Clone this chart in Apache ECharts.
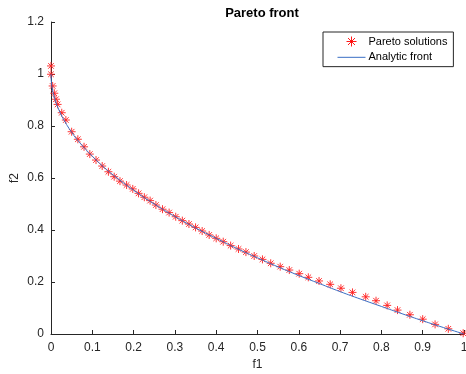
<!DOCTYPE html>
<html>
<head>
<meta charset="utf-8">
<script src="https://cdn.jsdelivr.net/npm/echarts@6/dist/echarts.min.js"></script>
<style>html,body{margin:0;padding:0;background:#fff}#c{width:466px;height:374px}</style>
</head>
<body>
<div id="c"></div>
<script>
var paretoF1 = [0, 0, 0.004, 0.008, 0.012, 0.016, 0.026, 0.036, 0.050, 0.065, 0.080, 0.094, 0.109, 0.124, 0.139, 0.153, 0.167, 0.183, 0.198, 0.212, 0.226, 0.240, 0.254, 0.270, 0.286, 0.302, 0.318, 0.334, 0.350, 0.366, 0.383, 0.400, 0.417, 0.435, 0.454, 0.472, 0.492, 0.512, 0.532, 0.555, 0.577, 0.601, 0.623, 0.649, 0.676, 0.702, 0.730, 0.762, 0.787, 0.814, 0.839, 0.869, 0.900, 0.930, 0.962, 0.998];
var paretoF2 = [1.031, 0.999, 0.954, 0.926, 0.903, 0.883, 0.851, 0.823, 0.778, 0.749, 0.720, 0.692, 0.669, 0.646, 0.624, 0.605, 0.588, 0.573, 0.558, 0.541, 0.526, 0.513, 0.496, 0.480, 0.467, 0.451, 0.436, 0.423, 0.410, 0.396, 0.381, 0.368, 0.355, 0.340, 0.327, 0.315, 0.300, 0.287, 0.272, 0.259, 0.246, 0.232, 0.218, 0.204, 0.191, 0.176, 0.160, 0.143, 0.128, 0.110, 0.092, 0.074, 0.057, 0.037, 0.020, 0.003];
var frontF1 = [0, 0.001, 0.003, 0.006, 0.01, 0.02, 0.03, 0.05, 0.07, 0.1, 0.13, 0.16, 0.2, 0.25, 0.3, 0.35, 0.4, 0.45, 0.5, 0.55, 0.6, 0.65, 0.7, 0.75, 0.8, 0.85, 0.9, 0.95, 1.0];
var frontF2 = [1.0, 0.968, 0.945, 0.923, 0.90, 0.859, 0.827, 0.776, 0.735, 0.684, 0.639, 0.600, 0.553, 0.500, 0.452, 0.408, 0.368, 0.329, 0.293, 0.258, 0.225, 0.194, 0.163, 0.134, 0.106, 0.078, 0.051, 0.025, 0.0];
var xTicks = ['0', '0.1', '0.2', '0.3', '0.4', '0.5', '0.6', '0.7', '0.8', '0.9', '1'];
var yTicks = ['0', '0.2', '0.4', '0.6', '0.8', '1', '1.2'];

var starPath = 'path://M0,-10L0,10M-10,0L10,0M-7,-7L7,7M-7,7L7,-7';
var linePath = 'path://M0,0L0,0M0,5L29,5M29,10L29,10';
var font = 'Liberation Sans, Arial, Helvetica, sans-serif';
var axisColor = '#262626';

var chart = echarts.init(document.getElementById('c'), null, {renderer: 'canvas'});
chart.setOption({
  animation: false,
  backgroundColor: '#fff',
  title: {
    text: 'Pareto front', left: 257, top: 2, textAlign: 'center',
    textStyle: {fontFamily: font, fontSize: 13, fontWeight: 'bold', color: '#000'}
  },
  legend: {
    orient: 'vertical', left: 323, top: 32,
    padding: [2, 6, 2, 12], itemGap: 1, itemWidth: 28, itemHeight: 10,
    backgroundColor: '#fff', borderColor: '#262626', borderWidth: 1, borderRadius: 0,
    textStyle: {fontFamily: font, fontSize: 11, color: '#000', padding: [0, 0, 0, -2]},
    data: [
      {name: 'Pareto solutions', icon: starPath, itemStyle: {color: 'none', borderColor: '#ff0000', borderWidth: 1}},
      {name: 'Analytic front', icon: linePath, itemStyle: {color: 'none', borderColor: '#3a6fc4', borderWidth: 1}}
    ]
  },
  grid: {left: 51, right: 2, top: 22, bottom: 40, containLabel: false, outerBoundsMode: 'none'},
  xAxis: {
    type: 'value', min: 0, max: 1, interval: 0.1,
    name: 'f1', nameLocation: 'middle', nameGap: 25, nameMoveOverlap: false,
    nameTextStyle: {fontFamily: font, fontSize: 12, color: '#262626'},
    axisLine: {show: true, lineStyle: {color: axisColor, width: 1}},
    axisTick: {show: true, inside: true, length: 4, lineStyle: {color: axisColor}},
    axisLabel: {fontFamily: font, fontSize: 12, color: '#262626', margin: 8,
      formatter: function (v) { return xTicks[Math.round(v * 10)]; }},
    splitLine: {show: false}
  },
  yAxis: {
    type: 'value', min: 0, max: 1.2, interval: 0.2,
    name: 'f2', nameLocation: 'middle', nameGap: 30, nameRotate: 90, nameMoveOverlap: false,
    nameTextStyle: {fontFamily: font, fontSize: 12, color: '#262626'},
    axisLine: {show: true, lineStyle: {color: axisColor, width: 1}},
    axisTick: {show: true, inside: true, length: 4, lineStyle: {color: axisColor}},
    axisLabel: {fontFamily: font, fontSize: 12, color: '#262626', margin: 7,
      formatter: function (v) { return yTicks[Math.round(v * 5)]; }},
    splitLine: {show: false}
  },
  series: [
    {
      name: 'Pareto solutions', type: 'scatter',
      symbol: starPath, symbolSize: 8,
      itemStyle: {color: 'none', borderColor: '#ff2020', borderWidth: 1, opacity: 0.9},
      data: paretoF1.map(function (x, i) { return [x, paretoF2[i]]; }),
      z: 2
    },
    {
      name: 'Analytic front', type: 'line', smooth: true, showSymbol: false, symbol: 'none',
      lineStyle: {color: '#3a6fc4', width: 1},
      data: frontF1.map(function (x, i) { return [x, frontF2[i]]; }),
      z: 3
    }
  ]
});
</script>
</body>
</html>
